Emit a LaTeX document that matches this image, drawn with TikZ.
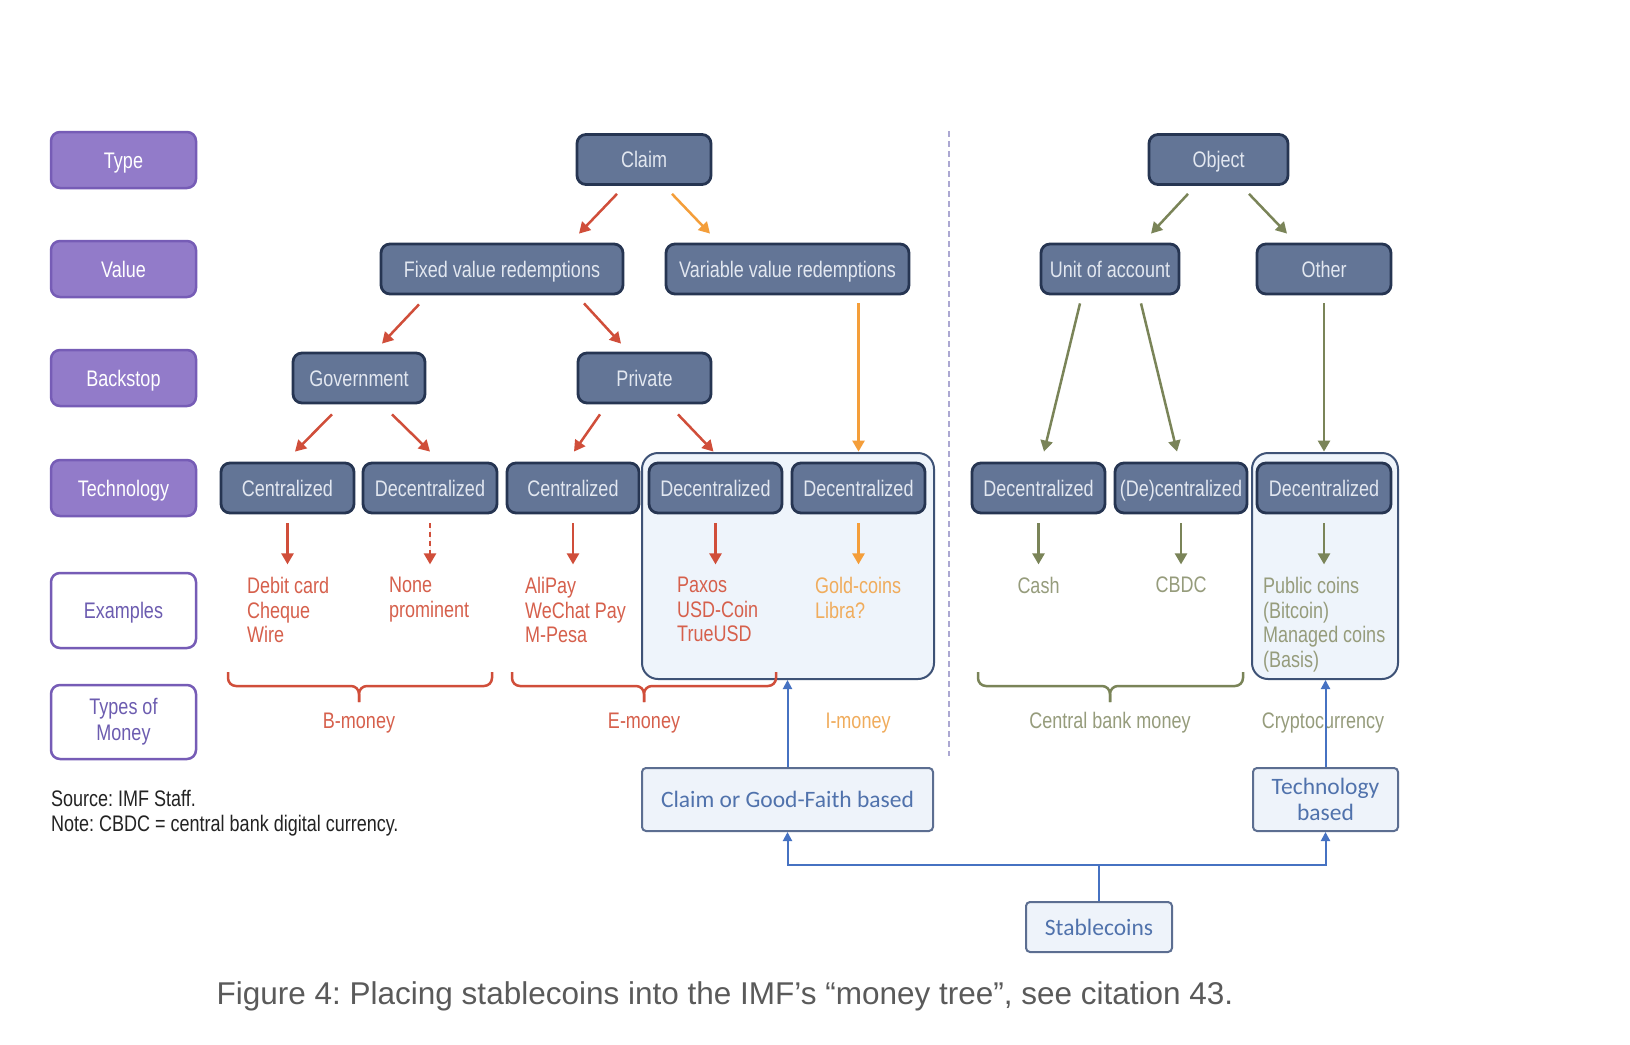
\documentclass[tikz,border=0pt]{standalone}
\usepackage{fontspec}
\setmainfont{Liberation Sans}
\newfontfamily\narfont[FakeStretch=0.8]{Liberation Sans}
\newfontfamily\califont{Carlito}
\usetikzlibrary{arrows.meta,calc}
\frenchspacing
\newcommand\nfs{\narfont\fontsize{22.5}{24.5}\selectfont}
\definecolor{purF}{RGB}{146,123,201}
\definecolor{purB}{RGB}{118,92,182}
\definecolor{purT}{RGB}{108,92,176}
\definecolor{slateF}{RGB}{99,117,150}
\definecolor{navyB}{RGB}{38,53,82}
\definecolor{boxT}{RGB}{226,231,240}
\definecolor{panelF}{RGB}{238,244,251}
\definecolor{panelB}{RGB}{62,82,118}
\definecolor{arrRed}{RGB}{208,78,58}
\definecolor{txtRed}{RGB}{214,96,76}
\definecolor{arrOr}{RGB}{244,158,58}
\definecolor{txtOr}{RGB}{240,172,92}
\definecolor{arrOl}{RGB}{122,132,88}
\definecolor{txtOl}{RGB}{150,156,124}
\definecolor{blueC}{RGB}{70,114,194}
\definecolor{noteB}{RGB}{92,110,145}
\definecolor{noteF}{RGB}{238,243,250}
\definecolor{noteT}{RGB}{80,114,172}
\definecolor{divC}{RGB}{172,168,210}
\definecolor{capG}{RGB}{90,90,90}
\definecolor{srcC}{RGB}{35,35,35}
\begin{document}
\begin{tikzpicture}[x=1pt,y=-1pt,
  lbl/.style={rounded corners=9pt, line width=2.5pt, minimum width=145pt, inner sep=0pt, font=\nfs},
  purp/.style={lbl, draw=purB, fill=purF, text=white, minimum height=56pt, text height=16pt, text depth=0pt},
  whit/.style={lbl, draw=purB, fill=white, text=purT, align=center},
  darkbox/.style={draw=navyB, fill=slateF, line width=2.8pt, rounded corners=9pt, minimum height=50pt, inner sep=0pt, text=boxT, font=\nfs, text height=16pt, text depth=0pt},
  panel/.style={draw=panelB, fill=panelF, line width=2pt, rounded corners=16pt, inner sep=0pt},
  note/.style={draw=noteB, fill=noteF, line width=2pt, rounded corners=4pt, inner sep=0pt, text=noteT, font=\califont\fontsize{23.5}{26}\selectfont},
  arr/.style={line width=2.5pt, -{Triangle[length=11pt,width=12pt]}},
  redarr/.style={arr, draw=arrRed, fill=arrRed},
  orarr/.style={arr, draw=arrOr, fill=arrOr},
  olarr/.style={arr, draw=arrOl, fill=arrOl},
  barr/.style={line width=2pt, draw=blueC, -{Triangle[length=9pt,width=9pt]}},
  ex/.style={anchor=north west, inner sep=0pt, align=left, font=\nfs},
  brace/.style={line width=2.5pt, rounded corners=8pt},
  tlbl/.style={anchor=base, inner sep=0pt, font=\nfs},
  divider/.style={draw=divC, line width=2.5pt, dash pattern=on 6pt off 4pt}
]
\useasboundingbox[fill=white] (0,0) rectangle (1630,1044);

% left labels
\node[purp] (type) at (123.5,160) {Type};
\node[purp] (value) at (123.5,269) {Value};
\node[purp] (backstop) at (123.5,378) {Backstop};
\node[purp] (technology) at (123.5,488) {Technology};
\node[whit, minimum height=75pt, text height=16pt, text depth=0pt] (examples) at (123.5,610.5) {Examples};
\node[whit, minimum height=74pt, font=\narfont\fontsize{22.5}{26}\selectfont] (types) at (123.5,722) {Types of\\Money};

% panels
\node[panel, minimum width=292pt, minimum height=226pt] (panelA) at (788,566) {};
\node[panel, minimum width=146pt, minimum height=226pt] (panelB) at (1325,566) {};

% tree boxes
\node[darkbox, minimum width=134pt] (claim) at (644,159.5) {Claim};
\node[darkbox, minimum width=139pt] (object) at (1218.5,159.5) {Object};
\node[darkbox, minimum width=242pt] (fixed) at (502,269) {Fixed value redemptions};
\node[darkbox, minimum width=243pt] (variable) at (787.5,269) {Variable value redemptions};
\node[darkbox, minimum width=138pt] (unit) at (1110,269) {Unit of account};
\node[darkbox, minimum width=134pt] (other) at (1324,269) {Other};
\node[darkbox, minimum width=132pt] (gov) at (359,378) {Government};
\node[darkbox, minimum width=133pt] (private) at (644.5,378) {Private};
\node[darkbox, minimum width=133pt] (c1) at (287.5,488) {Centralized};
\node[darkbox, minimum width=134pt] (d1) at (430,488) {Decentralized};
\node[darkbox, minimum width=132pt] (c2) at (573,488) {Centralized};
\node[darkbox, minimum width=133pt] (d2) at (715.5,488) {Decentralized};
\node[darkbox, minimum width=133pt] (d3) at (858.5,488) {Decentralized};
\node[darkbox, minimum width=133pt] (d4) at (1038.5,488) {Decentralized};
\node[darkbox, minimum width=132pt] (dc) at (1181,488) {(De)centralized};
\node[darkbox, minimum width=134pt] (d5) at (1324,488) {Decentralized};

% tree arrows
\draw[redarr] ($(claim.south)+(-27,8)$) -- ($(fixed.north)+(77,-9)$);
\draw[orarr] ($(claim.south)+(28,8)$) -- ($(variable.north)+(-77.5,-9)$);
\draw[redarr] ($(fixed.south)+(-83,9)$) -- ($(gov.north)+(23,-8)$);
\draw[redarr] ($(fixed.south)+(82,8)$) -- ($(private.north)+(-23.5,-8)$);
\draw[redarr] ($(gov.south)+(-27,10)$) -- ($(c1.north)+(7.5,-10)$);
\draw[redarr] ($(gov.south)+(33,10)$) -- ($(d1.north)+(0,-10)$);
\draw[redarr] ($(private.south)+(-44.5,10)$) -- ($(c2.north)+(1,-10)$);
\draw[redarr] ($(private.south)+(33.5,10)$) -- ($(d2.north)+(-2,-10)$);
\draw[orarr] ($(variable.south)+(71,8)$) -- ($(d3.north)+(0,-10)$);
\draw[olarr] ($(object.south)+(-30.5,8)$) -- ($(unit.north)+(41,-9)$);
\draw[olarr] ($(object.south)+(30.5,8)$) -- ($(other.north)+(-37,-9)$);
\draw[olarr] ($(unit.south)+(-30,8)$) -- ($(d4.north)+(5.5,-10)$);
\draw[olarr] ($(unit.south)+(31,8)$) -- ($(dc.north)+(-4,-10)$);
\draw[olarr] ($(other.south)+(0,8)$) -- ($(d5.north)+(0,-10)$);

% technology -> examples
\draw[redarr] ($(c1.south)+(0,9)$) -- ($(c1.south)+(0,50)$);
\draw[redarr, dash pattern=on 5pt off 4pt] ($(d1.south)+(0,9)$) -- ($(d1.south)+(0,50)$);
\draw[redarr] ($(c2.south)+(0,9)$) -- ($(c2.south)+(0,50)$);
\draw[redarr] ($(d2.south)+(0,9)$) -- ($(d2.south)+(0,50)$);
\draw[orarr] ($(d3.south)+(0,9)$) -- ($(d3.south)+(0,50)$);
\draw[olarr] ($(d4.south)+(0,9)$) -- ($(d4.south)+(0,50)$);
\draw[olarr] ($(dc.south)+(0,9)$) -- ($(dc.south)+(0,50)$);
\draw[olarr] ($(d5.south)+(0,9)$) -- ($(d5.south)+(0,50)$);

% examples
\node[ex, text=txtRed] (exc1) at (247,577) {Debit card\\Cheque\\Wire};
\node[ex, text=txtRed] (exd1) at (389,577) {None\\prominent};
\node[ex, text=txtRed] (exc2) at (525,577) {AliPay\\WeChat Pay\\M-Pesa};
\node[ex, text=txtRed] (exd2) at (677,577) {Paxos\\USD-Coin\\TrueUSD};
\node[ex, text=txtOr] (exd3) at (815,577) {Gold-coins\\Libra?};
\node[ex, text=txtOl, anchor=north] (exd4) at (1038.5,577) {Cash};
\node[ex, text=txtOl, anchor=north] (exdc) at (1181,577) {CBDC};
\node[ex, text=txtOl] (exd5) at (1263,577) {Public coins\\(Bitcoin)\\Managed coins\\(Basis)};

% braces
\draw[brace, draw=arrRed] (228,672) |- (359,686) -- (359,702);
\draw[brace, draw=arrRed] (492,672) |- (359,686) -- (359,702);
\draw[brace, draw=arrRed] (512,672) |- (644,686) -- (644,702);
\draw[brace, draw=arrRed] (776,672) |- (644,686) -- (644,702);
\draw[brace, draw=arrOl] (978,672) |- (1110,686) -- (1110,702);
\draw[brace, draw=arrOl] (1243,672) |- (1110,686) -- (1110,702);

% types of money
\node[tlbl, text=txtRed] (bmoney) at (359,728) {B-money};
\node[tlbl, text=txtRed] (emoney) at (644,728) {E-money};
\node[tlbl, text=txtOr] (imoney) at (858,728) {I-money};
\node[tlbl, text=txtOl] (cbmoney) at (1110,728) {Central bank money};
\node[tlbl, text=txtOl] (crypto) at (1323,728) {Cryptocurrency};

% divider
\draw[divider] (949,131) -- (949,756);

% source
\node[anchor=north west, align=left, inner sep=0pt, text=srcC, font=\narfont\fontsize{22.5}{25}\selectfont] (source) at (51,790) {Source: IMF Staff.\\Note: CBDC = central bank digital currency.};

% stablecoin annotations
\node[note, minimum width=291pt, minimum height=63pt] (claimgf) at (787.5,799.5) {Claim or Good-Faith based};
\node[note, minimum width=145pt, minimum height=63pt, align=center] (techb) at (1325.5,799.5) {Technology\\based};
\node[note, minimum width=146pt, minimum height=50pt] (stable) at (1099,927) {Stablecoins};
\coordinate (split) at ($(stable.north)+(0,-36)$);
\draw[barr] (stable.north) -- (split) -| (claimgf.south);
\draw[barr] (split) -| (techb.south);
\draw[barr] (claimgf.north) -- (claimgf.north |- panelA.south);
\draw[barr] (techb.north) -- (techb.north |- panelB.south);

% caption
\node[anchor=base, inner sep=0pt, text=capG, font=\fontsize{31.5}{34}\selectfont] (caption) at (725,1004) {Figure 4: Placing stablecoins into the IMF’s “money tree”, see citation 43.};
\end{tikzpicture}
\end{document}
